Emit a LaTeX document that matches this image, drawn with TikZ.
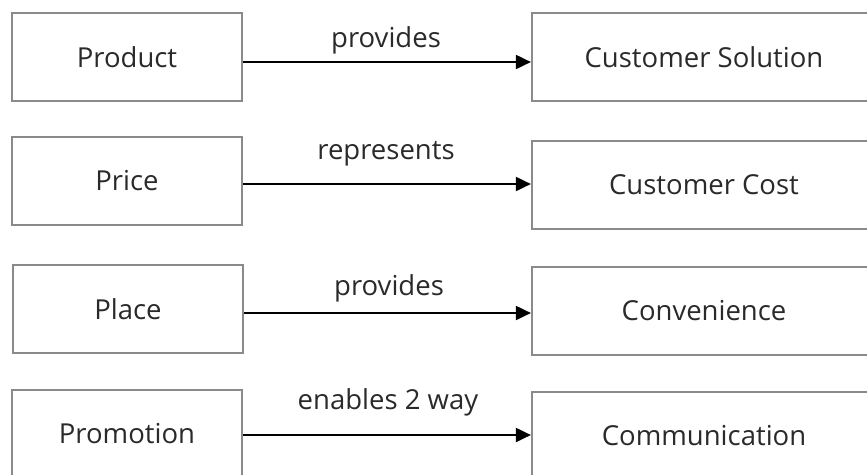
\documentclass[tikz,border=0pt]{standalone}
\usepackage{fontspec}
\setmainfont{Open Sans}
\usetikzlibrary{arrows.meta}
\definecolor{boxline}{HTML}{8A8A8A}
\definecolor{txt}{HTML}{2A2A2A}
\begin{document}
\begin{tikzpicture}[x=1pt,y=-1pt,
  mixbox/.style={draw=boxline,line width=2.2pt,minimum width=230pt,minimum height=88pt,inner sep=0pt,text=txt,font=\fontsize{27.5}{32}\selectfont},
  custbox/.style={mixbox,minimum width=344pt},
  rel/.style={-{Triangle[length=15pt,width=14pt]},line width=2pt,black},
  lab/.style={text=txt,font=\fontsize{27.5}{32}\selectfont,inner sep=0pt}]
\useasboundingbox (0,0) rectangle (867,474);
\clip (0,0) rectangle (867,474);
% left column: the four Ps
\node[mixbox] (product) at (127,57) {Product};
\node[mixbox] (price) at (127,181) {Price};
\node[mixbox] (place) at (128,309) {Place};
\node[mixbox] (promotion) at (127,434) {Promotion};
% right column: the four Cs
\node[custbox] (solution) at (704,57) {Customer Solution};
\node[custbox] (cost) at (704,185) {Customer Cost};
\node[custbox] (convenience) at (704,311) {Convenience};
\node[custbox] (communication) at (704,436) {Communication};
% relations
\draw[rel] (product.east |- 0,62) -- (solution.west |- 0,62);
\draw[rel] (price.east |- 0,184) -- (cost.west |- 0,184);
\draw[rel] (place.east |- 0,313) -- (convenience.west |- 0,313);
\draw[rel] (promotion.east |- 0,435) -- (communication.west |- 0,435);
\node[lab] (l1) at (386,40) {provides};
\node[lab] (l2) at (386,154) {represents};
\node[lab] (l3) at (389,288) {provides};
\node[lab] (l4) at (388,402) {enables 2 way};
\end{tikzpicture}
\end{document}
